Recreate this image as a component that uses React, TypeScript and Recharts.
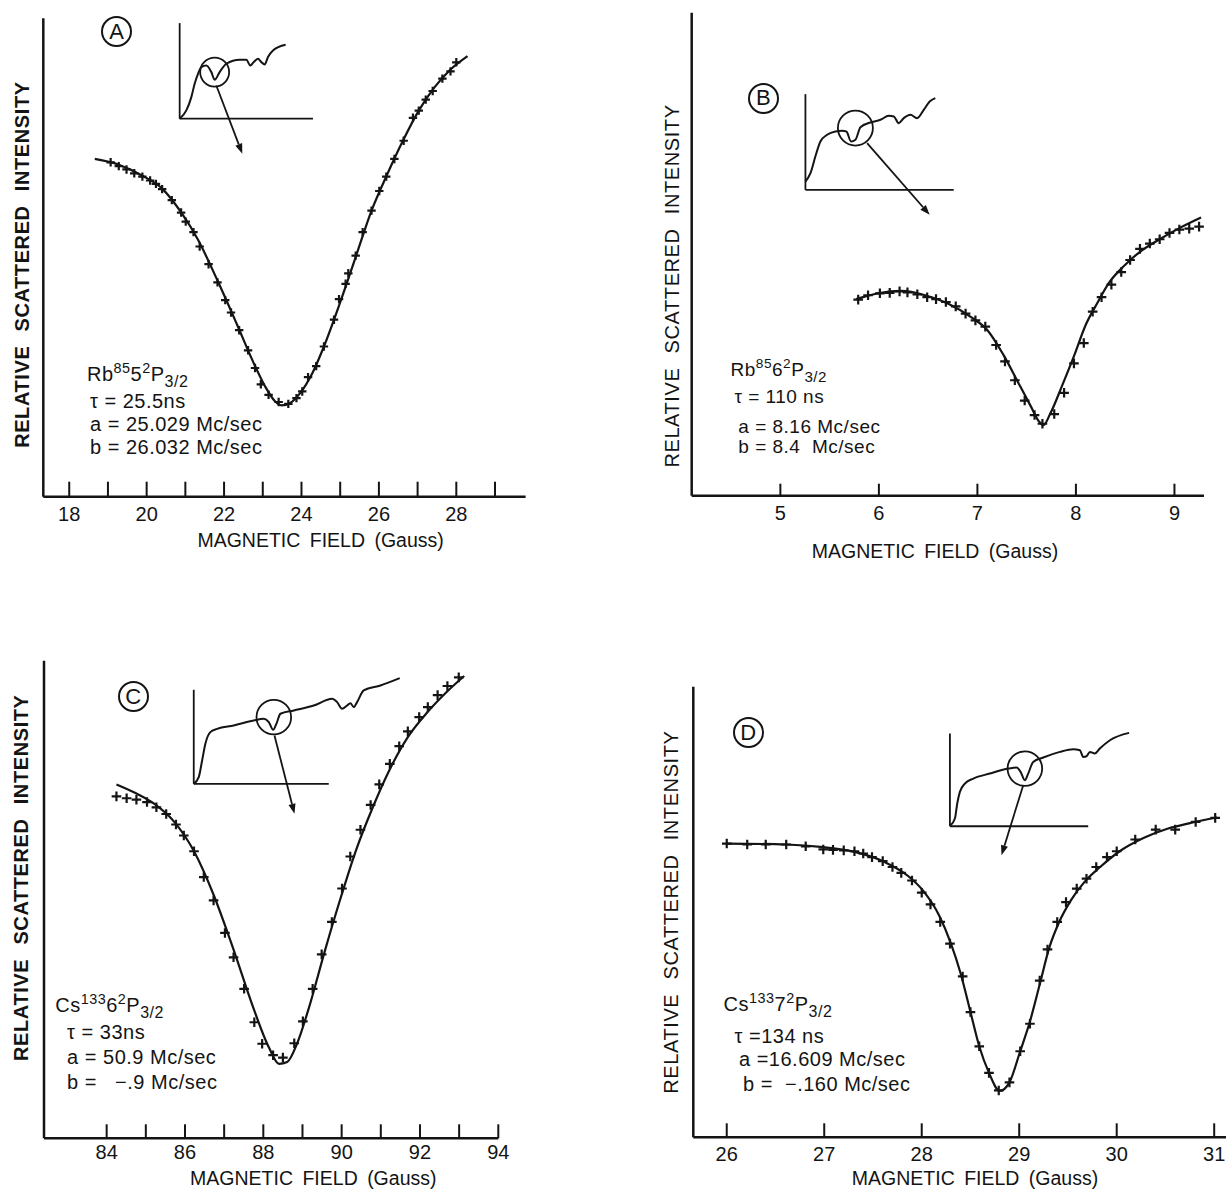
import React from 'react';
import { ComposedChart, LineChart, Line, Scatter, XAxis, YAxis, ReferenceLine, ReferenceDot, Label } from 'recharts';

const FONT = '"Liberation Sans", Arial, Helvetica, sans-serif';
const INK = '#141414';

// ---------------- Panel A : Rb85 5 2P3/2 ----------------
const A_PT_FIELD = [19.07, 19.28, 19.48, 19.68, 19.89, 20.09, 20.24, 20.40, 20.65, 20.89, 21.01, 21.21, 21.37, 21.60, 21.83, 22.03, 22.18, 22.39, 22.62, 22.80, 22.95, 23.15, 23.41, 23.66, 23.87, 24.02, 24.17, 24.38, 24.58, 24.84, 24.97, 25.14, 25.21, 25.40, 25.58, 25.81, 26.01, 26.19, 26.40, 26.64, 26.88, 27.03, 27.21, 27.39, 27.64, 27.85, 28.00];
const A_PT_INT = [69.9, 69.1, 68.4, 67.6, 66.9, 66.1, 65.4, 64.3, 62.0, 59.4, 57.5, 55.3, 52.3, 48.6, 44.8, 41.1, 38.5, 34.8, 30.6, 26.9, 23.5, 21.3, 19.8, 19.4, 20.6, 22.0, 25.0, 27.3, 31.4, 37.0, 41.3, 44.5, 46.7, 50.4, 55.3, 59.8, 63.9, 66.9, 70.6, 74.4, 79.2, 80.7, 83.0, 84.8, 87.4, 88.9, 90.8];
const A_FIT_FIELD = [18.66, 19.28, 19.89, 20.40, 20.91, 21.32, 21.83, 22.34, 22.74, 23.05, 23.31, 23.48, 23.71, 23.97, 24.28, 24.58, 24.99, 25.40, 25.81, 26.21, 26.62, 27.03, 27.44, 27.85, 28.29];
const A_FIT_INT = [70.6, 69.4, 67.1, 64.4, 59.2, 53.8, 45.2, 35.9, 28.4, 23.2, 20.0, 19.1, 19.6, 21.7, 25.8, 31.4, 40.4, 50.1, 59.8, 67.3, 74.4, 80.7, 85.6, 89.3, 92.1];
const A_TICKS = [18, 19, 20, 21, 22, 23, 24, 25, 26, 27, 28, 29];
const A_TICK_LABELS = [18, 20, 22, 24, 26, 28];
const A_INSET_X = [0, 5, 8.75, 11.25, 13.75, 16.25, 20, 23.75, 26.25, 30, 35, 45, 50, 53, 55.5, 58.75, 61.25, 63.75, 66.25, 70, 79.5];
const A_INSET_Y = [0, 8.7, 22.6, 36.6, 47.0, 54.0, 55.7, 48.8, 40.8, 48.8, 57.5, 61.7, 61.7, 55.7, 59.2, 62.7, 59.2, 56.8, 64.5, 71.4, 77.4];
const A_TEXT = { state: ['Rb', '85', '5', '2', 'P', '3/2'], tau: 'τ = 25.5ns', a: 'a = 25.029 Mc/sec', b: 'b = 26.032 Mc/sec' };

// ---------------- Panel B : Rb85 6 2P3/2 ----------------
const B_PT_FIELD = [5.79, 5.89, 6.01, 6.11, 6.21, 6.29, 6.39, 6.49, 6.58, 6.68, 6.78, 6.88, 6.98, 7.08, 7.19, 7.28, 7.38, 7.48, 7.58, 7.66, 7.78, 7.88, 7.98, 8.08, 8.17, 8.26, 8.36, 8.46, 8.55, 8.65, 8.75, 8.85, 8.95, 9.05, 9.15, 9.25];
const B_PT_INT = [40.6, 41.5, 41.9, 42.0, 42.3, 42.1, 41.7, 41.1, 40.7, 40.1, 39.2, 37.7, 36.3, 35.0, 31.2, 27.8, 23.9, 19.7, 16.7, 14.9, 16.9, 21.3, 27.4, 31.6, 38.1, 41.1, 43.7, 46.3, 48.8, 51.1, 52.2, 53.1, 54.4, 55.1, 55.3, 55.7];
const B_FIT_FIELD = [5.77, 5.99, 6.23, 6.47, 6.70, 6.94, 7.10, 7.26, 7.42, 7.54, 7.62, 7.67, 7.74, 7.86, 7.98, 8.10, 8.22, 8.34, 8.49, 8.65, 8.85, 9.05, 9.27];
const B_FIT_INT = [40.7, 41.9, 42.4, 41.5, 39.8, 36.9, 34.3, 29.3, 23.2, 18.6, 15.5, 14.6, 17.0, 22.8, 28.9, 35.4, 40.0, 44.2, 47.6, 50.5, 53.1, 55.4, 57.6];
const B_TICKS = [5, 6, 7, 8, 9];
const B_TICK_LABELS = [5, 6, 7, 8, 9];
const B_INSET_X = [0, 3.4, 6.7, 10.1, 14.6, 20.2, 24.7, 27.6, 30.8, 33.7, 37.1, 43.8, 50.6, 56.2, 59.6, 62.9, 66.3, 70.8, 75.3, 79.8, 83.8, 87.6];
const B_INSET_Y = [8.7, 17.4, 34.8, 50.5, 57.5, 61.0, 61.7, 61.0, 50.5, 52.3, 65.5, 70.4, 73.2, 77.4, 76.7, 69.7, 74.9, 78.4, 74.9, 83.6, 92.3, 95.8];
const B_TEXT = { state: ['Rb', '85', '6', '2', 'P', '3/2'], tau: 'τ = 110 ns', a: 'a = 8.16 Mc/sec', b: 'b = 8.4  Mc/sec' };

// ---------------- Panel C : Cs133 6 2P3/2 ----------------
const C_PT_FIELD = [84.25, 84.51, 84.76, 85.03, 85.27, 85.52, 85.77, 85.97, 86.23, 86.48, 86.73, 87.02, 87.24, 87.51, 87.77, 87.97, 88.25, 88.50, 88.79, 89.01, 89.26, 89.49, 89.75, 90.01, 90.22, 90.48, 90.74, 90.96, 91.23, 91.47, 91.69, 91.98, 92.20, 92.45, 92.70, 92.99];
const C_PT_INT = [71.6, 71.2, 70.9, 70.4, 69.3, 67.9, 65.7, 63.4, 60.1, 54.7, 49.8, 43.0, 37.9, 31.3, 24.3, 19.8, 17.4, 16.9, 19.9, 24.5, 31.3, 38.5, 45.3, 52.3, 59.0, 64.6, 69.8, 74.1, 78.4, 82.1, 85.2, 88.2, 90.3, 92.8, 94.7, 96.5];
const C_FIT_FIELD = [84.25, 84.71, 85.22, 85.72, 86.23, 86.73, 87.24, 87.75, 88.15, 88.40, 88.61, 88.86, 89.16, 89.57, 89.97, 90.38, 90.78, 91.19, 91.69, 92.20, 92.70, 93.13];
const C_FIT_INT = [74.1, 72.4, 70.0, 66.3, 60.1, 51.0, 39.5, 27.2, 18.9, 15.6, 16.0, 19.8, 27.2, 39.2, 50.2, 60.6, 69.0, 76.6, 84.0, 89.3, 93.6, 96.8];
const C_TICKS = [84, 85, 86, 87, 88, 89, 90, 91, 92, 93, 94];
const C_TICK_LABELS = [84, 86, 88, 90, 92, 94];
const C_INSET_X = [0, 3.7, 6.2, 8.6, 12.3, 17.3, 29.6, 44.4, 51.9, 55.6, 58.8, 61.2, 64.2, 74.1, 88.9, 102.5, 106.2, 109.9, 113.6, 116.0, 118.5, 121.0, 125.9, 138.3, 152.6];
const C_INSET_Y = [0, 7.1, 24.8, 42.6, 55.0, 58.5, 62.1, 67.4, 69.1, 65.6, 57.4, 63.8, 74.5, 78.0, 83.3, 90.4, 86.9, 79.8, 83.3, 85.8, 81.6, 86.9, 99.3, 104.6, 112.4];
const C_TEXT = { state: ['Cs', '133', '6', '2', 'P', '3/2'], tau: 'τ = 33ns', a: 'a = 50.9 Mc/sec', b: 'b =   −.9 Mc/sec' };

// ---------------- Panel D : Cs133 7 2P3/2 ----------------
const D_PT_FIELD = [26.00, 26.21, 26.40, 26.61, 26.81, 26.99, 27.09, 27.20, 27.31, 27.40, 27.49, 27.60, 27.70, 27.79, 27.90, 28.00, 28.09, 28.19, 28.29, 28.42, 28.50, 28.59, 28.69, 28.79, 28.90, 29.01, 29.11, 29.21, 29.29, 29.39, 29.48, 29.59, 29.69, 29.79, 29.90, 30.00, 30.19, 30.40, 30.60, 30.81, 31.01];
const D_PT_INT = [65.2, 65.0, 65.0, 65.0, 64.6, 63.9, 63.8, 63.7, 63.5, 63.0, 62.2, 61.3, 60.0, 58.7, 57.0, 54.3, 51.7, 47.8, 43.0, 35.7, 27.8, 20.2, 14.3, 10.4, 12.2, 19.1, 25.2, 34.8, 41.7, 47.8, 52.2, 55.2, 57.4, 60.0, 62.2, 63.5, 66.1, 68.3, 68.3, 70.0, 70.9];
const D_FIT_FIELD = [26.00, 26.61, 26.99, 27.30, 27.62, 27.86, 28.02, 28.18, 28.30, 28.40, 28.50, 28.59, 28.69, 28.80, 28.90, 29.01, 29.11, 29.21, 29.31, 29.41, 29.53, 29.67, 29.83, 30.03, 30.28, 30.52, 30.76, 31.03];
const D_FIT_INT = [65.2, 65.0, 64.4, 63.4, 61.1, 58.0, 54.6, 49.2, 43.0, 36.3, 27.8, 20.2, 14.3, 10.3, 12.2, 19.1, 25.7, 33.9, 42.2, 47.8, 52.6, 56.7, 60.0, 63.5, 66.5, 68.5, 69.8, 71.0];
const D_TICKS = [26, 27, 28, 29, 30, 31];
const D_TICK_LABELS = [26, 27, 28, 29, 30, 31];
const D_INSET_X = [0.5, 3.6, 5.3, 7.2, 10.8, 16.9, 28.9, 42.2, 48.2, 51.1, 54.2, 56.6, 60.2, 67.5, 79.5, 89.2, 94.0, 96.4, 98.8, 101.2, 104.8, 108.4, 115.7, 129.6];
const D_INSET_Y = [1.1, 8.3, 24.5, 37.1, 46.0, 51.4, 56.8, 62.2, 63.3, 58.6, 49.6, 56.8, 69.4, 74.1, 80.2, 83.1, 82.0, 74.8, 75.5, 80.2, 78.4, 83.8, 92.8, 100.7];
const D_TEXT = { state: ['Cs', '133', '7', '2', 'P', '3/2'], tau: 'τ =134 ns', a: 'a =16.609 Mc/sec', b: 'b =  −.160 Mc/sec' };

const X_TITLE = 'MAGNETIC FIELD (Gauss)';
const Y_TITLE = 'RELATIVE SCATTERED INTENSITY';

const zip = (xs: number[], ys: number[]) => xs.map((x, i) => ({ x, y: ys[i] }));

const X_AXIS_H = 40;
const Y_AXIS_W = 12;

type Panel = {
  letter: string;
  box: { left: number; top: number; width: number; height: number };
  plot: { left: number; top: number; right: number; bottom: number };
  domain: [number, number];
  ticks: number[];
  labels: number[];
  tickLen: number;
  tickDy: number;
  xTitle: [number, number];
  yTitle: [number, number];
  yBold: boolean;
  points: { x: number; y: number }[];
  fit: { x: number; y: number }[];
  plus: number;
  circle: [number, number];
  inset: {
    frame: { left: number; top: number; right: number; bottom: number };
    data: { x: number; y: number }[];
    ring: [number, number, number];
    arrow: [number, number, number, number];
  };
  text: { state: string[]; tau: string; a: string; b: string };
  textPos: { lefts: number[]; centers: number[]; size: number };
};

const PANELS: Panel[] = [
  {
    letter: 'A',
    box: { left: 0, top: 0, width: 600, height: 590 },
    plot: { left: 43.3, top: 18.3, right: 525.6, bottom: 496.7 },
    domain: [17.33, 29.79],
    ticks: A_TICKS, labels: A_TICK_LABELS, tickLen: 15, tickDy: 23.8,
    xTitle: [320.6, 540], yTitle: [21.9, 264.6], yBold: true,
    points: zip(A_PT_FIELD, A_PT_INT), fit: zip(A_FIT_FIELD, A_FIT_INT), plus: 4.2,
    circle: [116.7, 31.7],
    inset: {
      frame: { left: 180, top: 22.7, right: 313.3, bottom: 118.3 },
      data: zip(A_INSET_X, A_INSET_Y),
      ring: [26.25, 48.8, 14.5],
      arrow: [27.5, 34.8, 47, -36.6],
    },
    text: A_TEXT,
    textPos: { lefts: [87, 90, 90, 90], centers: [373.5, 401, 424.2, 446.7], size: 20 },
  },
  {
    letter: 'B',
    box: { left: 613, top: 0, width: 613, height: 590 },
    plot: { left: 691.7, top: 12.7, right: 1204, bottom: 495.7 },
    domain: [4.10, 9.30],
    ticks: B_TICKS, labels: B_TICK_LABELS, tickLen: 12, tickDy: 24.5,
    xTitle: [935, 551.4], yTitle: [671.7, 286], yBold: false,
    points: zip(B_PT_FIELD, B_PT_INT), fit: zip(B_FIT_FIELD, B_FIT_INT), plus: 4.8,
    circle: [763.3, 98.3],
    inset: {
      frame: { left: 805, top: 94.3, right: 953.3, bottom: 190 },
      data: zip(B_INSET_X, B_INSET_Y),
      ring: [33.7, 64.5, 17.5],
      arrow: [41.6, 48.8, 83.8, -26.1],
    },
    text: B_TEXT,
    textPos: { lefts: [730.5, 734.4, 738.3, 738.3], centers: [369, 396.7, 426.3, 446.6], size: 19 },
  },
  {
    letter: 'C',
    box: { left: 0, top: 600, width: 600, height: 595 },
    plot: { left: 44, top: 660.7, right: 498.3, bottom: 1138.3 },
    domain: [82.40, 94.0],
    ticks: C_TICKS, labels: C_TICK_LABELS, tickLen: 14, tickDy: 20.6,
    xTitle: [313.3, 1178.3], yTitle: [21.5, 877.7], yBold: true,
    points: zip(C_PT_FIELD, C_PT_INT), fit: zip(C_FIT_FIELD, C_FIT_INT), plus: 4.8,
    circle: [133.3, 696.7],
    inset: {
      frame: { left: 193.3, top: 689.3, right: 328.3, bottom: 783.3 },
      data: zip(C_INSET_X, C_INSET_Y),
      ring: [59.3, 70.9, 17.3],
      arrow: [59.8, 51.4, 74.6, -31.9],
    },
    text: C_TEXT,
    textPos: { lefts: [55.2, 67.1, 67.1, 67.1], centers: [1004.7, 1032.2, 1056.5, 1081.3], size: 20 },
  },
  {
    letter: 'D',
    box: { left: 613, top: 600, width: 613, height: 595 },
    plot: { left: 693.3, top: 686.8, right: 1226, bottom: 1137.3 },
    domain: [25.657, 31.121],
    ticks: D_TICKS, labels: D_TICK_LABELS, tickLen: 14, tickDy: 23.9,
    xTitle: [975, 1178.3], yTitle: [670.7, 912.1], yBold: false,
    points: zip(D_PT_FIELD, D_PT_INT), fit: zip(D_FIT_FIELD, D_FIT_INT), plus: 4.8,
    circle: [748.3, 732.7],
    inset: {
      frame: { left: 950, top: 733.3, right: 1088.3, bottom: 826 },
      data: zip(D_INSET_X, D_INSET_Y),
      ring: [54.2, 62.2, 17.3],
      arrow: [53.0, 44.2, 37.3, -31.3],
    },
    text: D_TEXT,
    textPos: { lefts: [723.6, 734.5, 739, 743], centers: [1004.1, 1035.5, 1059, 1083.7], size: 20 },
  },
];

const makeTick = (p: Panel) => (props: any) => {
  const { x, y, payload } = props;
  const v = payload?.value;
  const show = p.labels.includes(v);
  return (
    <g>
      <line x1={x} x2={x} y1={y} y2={y - p.tickLen} stroke={INK} strokeWidth={2} />
      {show && (
        <text x={x} y={y + p.tickDy} textAnchor="middle" fontSize={20} fontFamily={FONT} fill={INK}>
          {v}
        </text>
      )}
    </g>
  );
};

const makePlus = (s: number) => (props: any) => {
  const { cx, cy } = props;
  if (cx == null || cy == null) return <g />;
  return <path d={`M${cx - s},${cy}H${cx + s}M${cx},${cy - s}V${cy + s}`} stroke={INK} strokeWidth={2.2} fill="none" />;
};

const Arrow = (props: any) => {
  const { x1, y1, x2, y2 } = props;
  if ([x1, y1, x2, y2].some((v) => v == null || isNaN(v))) return <g />;
  const ang = Math.atan2(y2 - y1, x2 - x1);
  const L = 10;
  const W = 3.6;
  const bx = x2 - L * Math.cos(ang);
  const by = y2 - L * Math.sin(ang);
  const px = -Math.sin(ang) * W;
  const py = Math.cos(ang) * W;
  return (
    <g>
      <line x1={x1} y1={y1} x2={bx} y2={by} stroke={INK} strokeWidth={1.8} />
      <path d={`M${x2},${y2}L${bx + px},${by + py}L${bx - px},${by - py}Z`} fill={INK} />
    </g>
  );
};

function MainChart({ p }: { p: Panel }) {
  const { box, plot } = p;
  const margin = {
    top: plot.top - box.top,
    left: plot.left - box.left - Y_AXIS_W,
    right: box.left + box.width - plot.right,
    bottom: box.top + box.height - plot.bottom - X_AXIS_H,
  };
  const [xtx, xty] = [p.xTitle[0] - box.left, p.xTitle[1] - box.top];
  const [ytx, yty] = [p.yTitle[0] - box.left, p.yTitle[1] - box.top];
  return (
    <div style={{ position: 'absolute', left: box.left, top: box.top }}>
      <ComposedChart width={box.width} height={box.height} margin={margin}>
        <XAxis
          type="number"
          dataKey="x"
          domain={p.domain}
          ticks={p.ticks}
          interval={0}
          height={X_AXIS_H}
          tickSize={0}
          tickMargin={0}
          tickLine={false}
          axisLine={{ stroke: INK, strokeWidth: 2.5 }}
          tick={makeTick(p)}
        >
          <Label
            content={() => (
              <text x={xtx} y={xty + 7} textAnchor="middle" fontSize={19.5} fontFamily={FONT} fill={INK} style={{ wordSpacing: 4 }}>
                {X_TITLE}
              </text>
            )}
          />
        </XAxis>
        <YAxis
          type="number"
          dataKey="y"
          domain={[0, 100]}
          width={Y_AXIS_W}
          tick={false}
          tickLine={false}
          axisLine={{ stroke: INK, strokeWidth: 2.5 }}
        >
          <Label
            content={() => (
              <text
                x={ytx}
                y={yty + 7}
                transform={`rotate(-90 ${ytx} ${yty})`}
                textAnchor="middle"
                fontSize={20}
                fontWeight={p.yBold ? 700 : 400}
                fontFamily={FONT}
                fill={INK}
                style={{ letterSpacing: 0.6, wordSpacing: 8 }}
              >
                {Y_TITLE}
              </text>
            )}
          />
        </YAxis>
        <Line data={p.fit} dataKey="y" type="monotone" stroke={INK} strokeWidth={2.2} dot={false} isAnimationActive={false} />
        <Scatter data={p.points} dataKey="y" shape={makePlus(p.plus)} isAnimationActive={false} />
      </ComposedChart>
    </div>
  );
}

function InsetChart({ p }: { p: Panel }) {
  const { frame, data, ring, arrow } = p.inset;
  const sx = (frame.right - frame.left) / 100;
  const sy = (frame.bottom - frame.top) / 100;
  const XD: [number, number] = [-5, 160];
  const YD: [number, number] = [-45, 120];
  const left = frame.left + XD[0] * sx;
  const top = frame.bottom - YD[1] * sy;
  const w = (XD[1] - XD[0]) * sx;
  const h = (YD[1] - YD[0]) * sy;
  return (
    <div style={{ position: 'absolute', left, top }}>
      <LineChart width={w} height={h} margin={{ top: 0, right: 0, bottom: 0, left: 0 }}>
        <XAxis type="number" dataKey="x" domain={XD} hide />
        <YAxis type="number" dataKey="y" domain={YD} hide />
        <ReferenceLine segment={[{ x: 0, y: 0 }, { x: 0, y: 100 }]} stroke={INK} strokeWidth={1.8} ifOverflow="visible" />
        <ReferenceLine segment={[{ x: 0, y: 0 }, { x: 100, y: 0 }]} stroke={INK} strokeWidth={1.8} ifOverflow="visible" />
        <Line data={data} dataKey="y" type="monotone" stroke={INK} strokeWidth={2} dot={false} isAnimationActive={false} />
        <ReferenceDot x={ring[0]} y={ring[1]} r={ring[2]} fill="none" stroke={INK} strokeWidth={1.8} ifOverflow="visible" />
        <ReferenceLine
          segment={[{ x: arrow[0], y: arrow[1] }, { x: arrow[2], y: arrow[3] }]}
          stroke={INK}
          ifOverflow="visible"
          shape={Arrow}
        />
      </LineChart>
    </div>
  );
}

function Notes({ p }: { p: Panel }) {
  const { lefts, centers, size } = p.textPos;
  const base: React.CSSProperties = {
    position: 'absolute',
    fontFamily: FONT,
    fontSize: size,
    lineHeight: `${size}px`,
    color: INK,
    whiteSpace: 'pre',
    letterSpacing: 0.5,
  };
  const [el, mass, n, mult, L, j] = p.text.state;
  const lines = [
    <span key="s">
      {el}
      <sup style={{ fontSize: '0.72em', verticalAlign: '0.55em', lineHeight: 0 }}>{mass}</sup>
      {n}
      <sup style={{ fontSize: '0.72em', verticalAlign: '0.55em', lineHeight: 0 }}>{mult}</sup>
      {L}
      <sub style={{ fontSize: '0.8em', verticalAlign: '-0.4em', lineHeight: 0 }}>{j}</sub>
    </span>,
    p.text.tau,
    p.text.a,
    p.text.b,
  ];
  return (
    <>
      {lines.map((content, i) => (
        <div key={i} style={{ ...base, left: lefts[i], top: centers[i] - size * 0.49 }}>
          {content}
        </div>
      ))}
      <div
        style={{
          position: 'absolute',
          left: p.circle[0] - 15.5,
          top: p.circle[1] - 15.5,
          width: 31,
          height: 31,
          boxSizing: 'border-box',
          border: `2.2px solid ${INK}`,
          borderRadius: '50%',
          display: 'flex',
          alignItems: 'center',
          justifyContent: 'center',
          fontFamily: FONT,
          fontSize: 22,
          lineHeight: '22px',
          color: INK,
        }}
      >
        {p.letter}
      </div>
    </>
  );
}

export default function App() {
  return (
    <div style={{ position: 'absolute', left: 0, top: 0, width: 1226, height: 1195, background: '#fff', overflow: 'hidden' }}>
      {PANELS.map((p) => (
        <React.Fragment key={p.letter}>
          <MainChart p={p} />
          <InsetChart p={p} />
          <Notes p={p} />
        </React.Fragment>
      ))}
    </div>
  );
}
